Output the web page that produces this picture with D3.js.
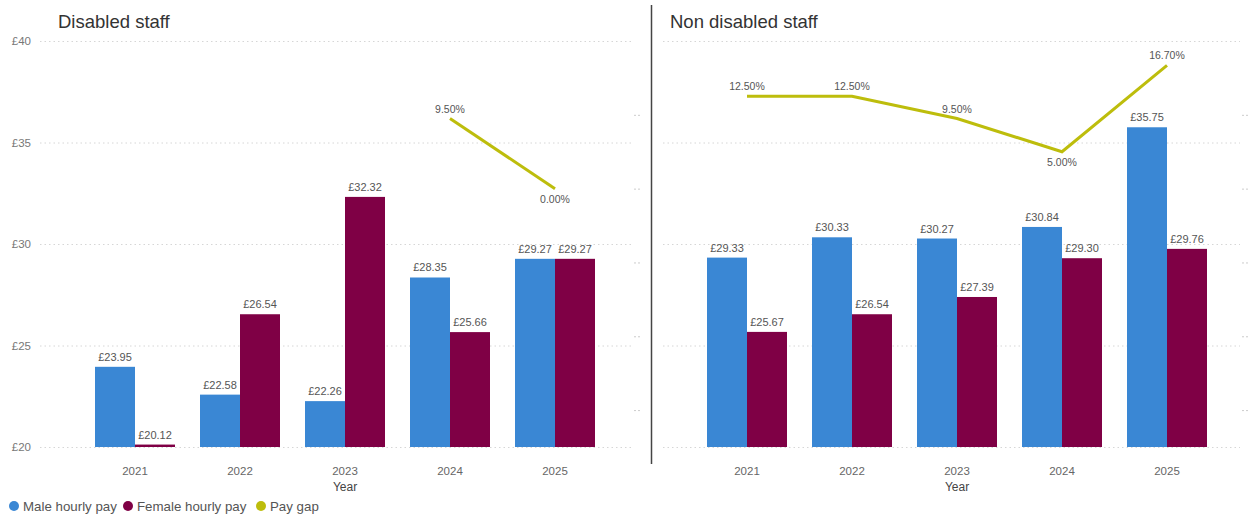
<!DOCTYPE html>
<html><head><meta charset="utf-8">
<script src="https://cdn.jsdelivr.net/npm/d3@7"></script>
<style>body{margin:0;background:#fff}svg{display:block;font-family:"Liberation Sans",Arial,sans-serif}</style>
</head><body><svg id="c" width="1248" height="516"></svg>
<script>
const years = ["2021","2022","2023","2024","2025"];
const disabledMale   = [23.95, 22.58, 22.26, 28.35, 29.27];
const disabledFemale = [20.12, 26.54, 32.32, 25.66, 29.27];
const disabledGap    = [null, null, null, 9.5, 0.0];
const nonMale   = [29.33, 30.33, 30.27, 30.84, 35.75];
const nonFemale = [25.67, 26.54, 27.39, 29.30, 29.76];
const nonGap    = [12.5, 12.5, 9.5, 5.0, 16.7];
const payTicks = [20, 25, 30, 35, 40];
const gapTicks = [-30, -20, -10, 0, 10];
const gapBelow = {disabled:[false,false,false,false,true], non:[false,false,false,true,false]};

const colors = {male:"#3A87D4", female:"#7F0045", gap:"#BDBD0C"};
const svg = d3.select("#c");
const yTop = 41, yBot = 447;
const y = d3.scaleLinear().domain([20, 40]).range([yBot, yTop]);
const y2 = d3.scaleLinear().domain([-35, 20]).range([yBot, yTop]);

// y axis labels (left only)
const yAxis = d3.axisLeft(y).tickValues(payTicks).tickFormat(d => "£" + d).tickSize(0).tickPadding(0);
const ga = svg.append("g").attr("transform", "translate(31,0)").call(yAxis);
ga.select(".domain").remove();
ga.selectAll("text").attr("font-size", 11.5).attr("fill", "#777").attr("font-family", "Liberation Sans, Arial, sans-serif");

function panel(opt) {
  const g = svg.append("g");
  g.selectAll("line.grid").data(payTicks).join("line")
    .attr("x1", opt.gx0).attr("x2", opt.gx1)
    .attr("y1", d => y(d) + 0.5).attr("y2", d => y(d) + 0.5)
    .attr("stroke", "#d6d6d6").attr("stroke-dasharray", "1.5,3");
  g.selectAll("line.t2").data(gapTicks).join("line")
    .attr("x1", opt.tx).attr("x2", opt.tx + 6)
    .attr("y1", d => y2(d) + 0.5).attr("y2", d => y2(d) + 0.5)
    .attr("stroke", "#ccc").attr("stroke-dasharray", "2,2");

  const x = d3.scaleBand().domain(years).range(opt.range).paddingInner(25/105).paddingOuter(25/210);
  const xs = d3.scaleBand().domain(["m","f"]).range([0, x.bandwidth()]);

  const rows = years.map((yr, i) => ({yr, m: opt.male[i], f: opt.female[i], gap: opt.gap[i], below: opt.below[i]}));
  const grp = g.selectAll("g.yr").data(rows).join("g").attr("transform", d => `translate(${x(d.yr)},0)`);
  ["m","f"].forEach(k => {
    grp.append("rect")
      .attr("x", xs(k)).attr("width", xs.bandwidth())
      .attr("y", d => y(d[k])).attr("height", d => y(20) - y(d[k]))
      .attr("fill", k === "m" ? colors.male : colors.female);
    grp.append("text")
      .attr("x", xs(k) + xs.bandwidth() / 2).attr("y", d => y(d[k]) - 6)
      .attr("text-anchor", "middle").attr("font-size", 11).attr("fill", "#555")
      .text(d => "£" + d[k].toFixed(2));
  });

  const xAxis = d3.axisBottom(x).tickSize(0).tickPadding(0);
  const gx = g.append("g").attr("transform", "translate(0,467)").call(xAxis);
  gx.select(".domain").remove();
  gx.selectAll("text").attr("font-size", 11.5).attr("fill", "#666").attr("font-family", "Liberation Sans, Arial, sans-serif");
  g.append("text").attr("x", x("2023") + x.bandwidth() / 2).attr("y", 491)
    .attr("text-anchor", "middle").attr("font-size", 12).attr("fill", "#444").text("Year");

  const pts = rows.filter(d => d.gap !== null);
  const line = d3.line().x(d => x(d.yr) + x.bandwidth() / 2).y(d => y2(d.gap));
  g.append("path").datum(pts).attr("d", line).attr("fill", "none")
    .attr("stroke", colors.gap).attr("stroke-width", 3);
  g.selectAll("text.gl").data(pts).join("text")
    .attr("x", d => x(d.yr) + x.bandwidth() / 2)
    .attr("y", d => d.below ? y2(d.gap) + 14 : y2(d.gap) - 6)
    .attr("text-anchor", "middle").attr("font-size", 10.5).attr("fill", "#555")
    .text(d => d.gap.toFixed(2) + "%");

  svg.append("text").attr("x", opt.titleX).attr("y", 28).attr("font-size", 18.5).attr("fill", "#333").text(opt.title);
}

panel({title: "Disabled staff", titleX: 58, range: [82.5, 607.5], gx0: 40, gx1: 632, tx: 634,
  male: disabledMale, female: disabledFemale, gap: disabledGap, below: gapBelow.disabled});
panel({title: "Non disabled staff", titleX: 670, range: [694.5, 1219.5], gx0: 663, gx1: 1240, tx: 1242,
  male: nonMale, female: nonFemale, gap: nonGap, below: gapBelow.non});

svg.append("line").attr("x1", 651.5).attr("x2", 651.5).attr("y1", 5).attr("y2", 464)
  .attr("stroke", "#444").attr("stroke-width", 1.5);

const legend = [{n: "Male hourly pay", c: colors.male, x: 14}, {n: "Female hourly pay", c: colors.female, x: 128}, {n: "Pay gap", c: colors.gap, x: 261}];
const lg = svg.selectAll("g.lg").data(legend).join("g").attr("transform", d => `translate(${d.x},506)`);
lg.append("circle").attr("r", 5).attr("fill", d => d.c);
lg.append("text").attr("x", 9).attr("y", 4.5).attr("font-size", 13.3).attr("fill", "#555").text(d => d.n);
</script></body></html>
